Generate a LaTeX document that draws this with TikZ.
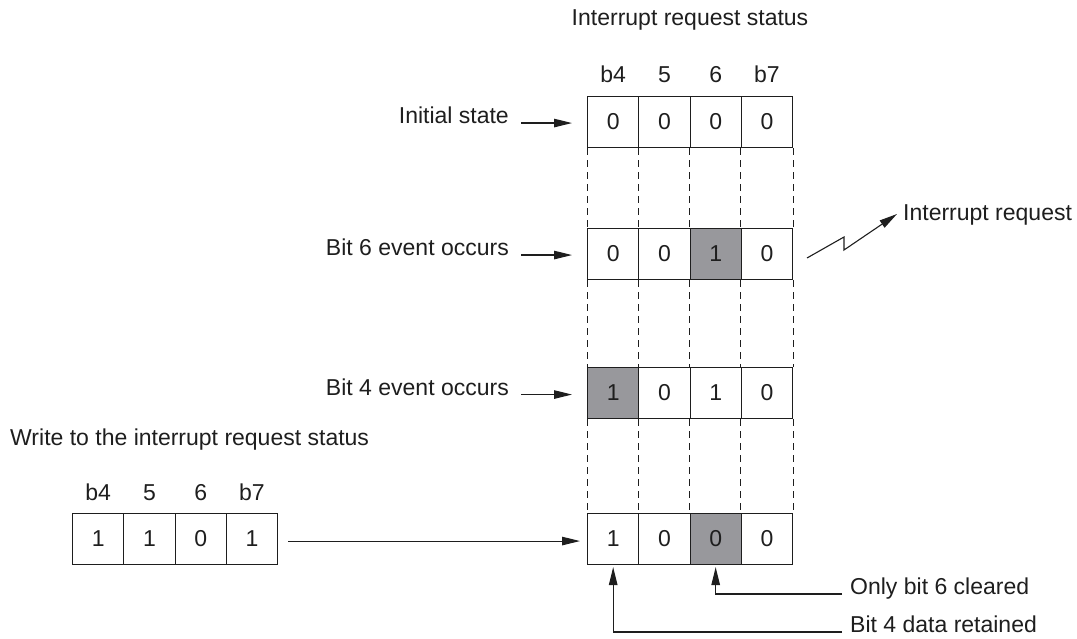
\documentclass[tikz,border=0pt]{standalone}
\usepackage{fontspec}
\setmainfont{Liberation Sans}
\usetikzlibrary{arrows.meta}
\definecolor{cellgray}{RGB}{152,152,156}
\definecolor{ink}{RGB}{30,30,30}
\begin{document}
\begin{tikzpicture}[x=1pt,y=-1pt,
  font=\fontsize{23}{27}\selectfont,
  every node/.style={text=ink, inner sep=0pt},
  cell/.style={draw=ink, line width=1.1pt, minimum width=51.25pt, minimum height=51pt, inner sep=0pt, anchor=north west},
  hot/.style={cell, fill=cellgray},
  arr/.style={draw=ink, line width=1.1pt, -{Triangle[length=18pt,width=8.5pt]}},
  dashln/.style={draw=ink, line width=1pt, dash pattern=on 7pt off 5pt},
  hdr/.style={anchor=base},
  lab/.style={anchor=base east}
]
\useasboundingbox (0,0) rectangle (1077,639);

% title
\node[anchor=base] (title) at (690,26) {Interrupt request status};

% main register rows
\node[cell] (r1c1) at (587,96) {0};
\node[cell] (r1c2) at (638.25,96) {0};
\node[cell] (r1c3) at (689.5,96) {0};
\node[cell] (r1c4) at (740.75,96) {0};

\node[cell] (r2c1) at (587,228) {0};
\node[cell] (r2c2) at (638.25,228) {0};
\node[hot]  (r2c3) at (689.5,228) {1};
\node[cell] (r2c4) at (740.75,228) {0};

\node[hot]  (r3c1) at (587,367) {1};
\node[cell] (r3c2) at (638.25,367) {0};
\node[cell] (r3c3) at (689.5,367) {1};
\node[cell] (r3c4) at (740.75,367) {0};

\node[cell] (r4c1) at (587,513) {1};
\node[cell] (r4c2) at (638.25,513) {0};
\node[hot]  (r4c3) at (689.5,513) {0};
\node[cell] (r4c4) at (740.75,513) {0};

% dashed guides between rows
\foreach \a/\b in {1/2,2/3,3/4}{
  \foreach \i in {1,...,4}{
    \draw[dashln] (r\a c\i.south west) -- (r\b c\i.north west);
  }
  \draw[dashln] (r\a c4.south east) -- (r\b c4.north east);
}

% headers of main register
\node[hdr] (h1) at ([yshift=13pt]r1c1.north) {b4};
\node[hdr] (h2) at ([yshift=13pt]r1c2.north) {5};
\node[hdr] (h3) at ([yshift=13pt]r1c3.north) {6};
\node[hdr] (h4) at ([yshift=13pt]r1c4.north) {b7};

% row labels
\node[lab] (l1) at (509,123.5) {Initial state};
\node[lab] (l2) at (509,255.5) {Bit 6 event occurs};
\node[lab] (l3) at (509,395) {Bit 4 event occurs};
\draw[arr] ([xshift=12pt,yshift=-1pt]r1c1.west -| l1.east) -- ([xshift=-15pt,yshift=-1pt]r1c1.west);
\draw[arr] ([xshift=12pt,yshift=-1pt]r2c1.west -| l2.east) -- ([xshift=-15pt,yshift=-1pt]r2c1.west);
\draw[arr] ([xshift=12pt,yshift=-1.5pt]r3c1.west -| l3.east) -- ([xshift=-15pt,yshift=-1.5pt]r3c1.west);

% interrupt request
\node[anchor=base west] (ir) at (903,221) {Interrupt request};
\coordinate (zs) at (807,258);
\draw[arr] (zs) -- (844,237) -- (844,250) -- ([shift={(-6,-7)}]ir.base west);

% write block
\node[anchor=base west] (wr) at (10,445) {Write to the interrupt request status};
\node[cell] (s1) at (72,513) {1};
\node[cell] (s2) at (123.25,513) {1};
\node[cell] (s3) at (174.5,513) {0};
\node[cell] (s4) at (225.75,513) {1};
\node[hdr] (g1) at ([yshift=13pt]s1.north) {b4};
\node[hdr] (g2) at ([yshift=13pt]s2.north) {5};
\node[hdr] (g3) at ([yshift=13pt]s3.north) {6};
\node[hdr] (g4) at ([yshift=13pt]s4.north) {b7};
\draw[arr] ([xshift=10pt,yshift=-2pt]s4.east) -- ([xshift=-7pt,yshift=-2pt]r4c1.west);

% result notes
\node[anchor=base west] (n6) at (850,594) {Only bit 6 cleared};
\node[anchor=base west] (n4) at (850,632) {Bit 4 data retained};
\draw[arr] ([xshift=-8pt]n6.base west) -| ([yshift=-2pt]r4c3.south);
\draw[arr] ([xshift=-8pt]n4.base west) -| ([yshift=-2pt]r4c1.south);
\end{tikzpicture}
\end{document}
